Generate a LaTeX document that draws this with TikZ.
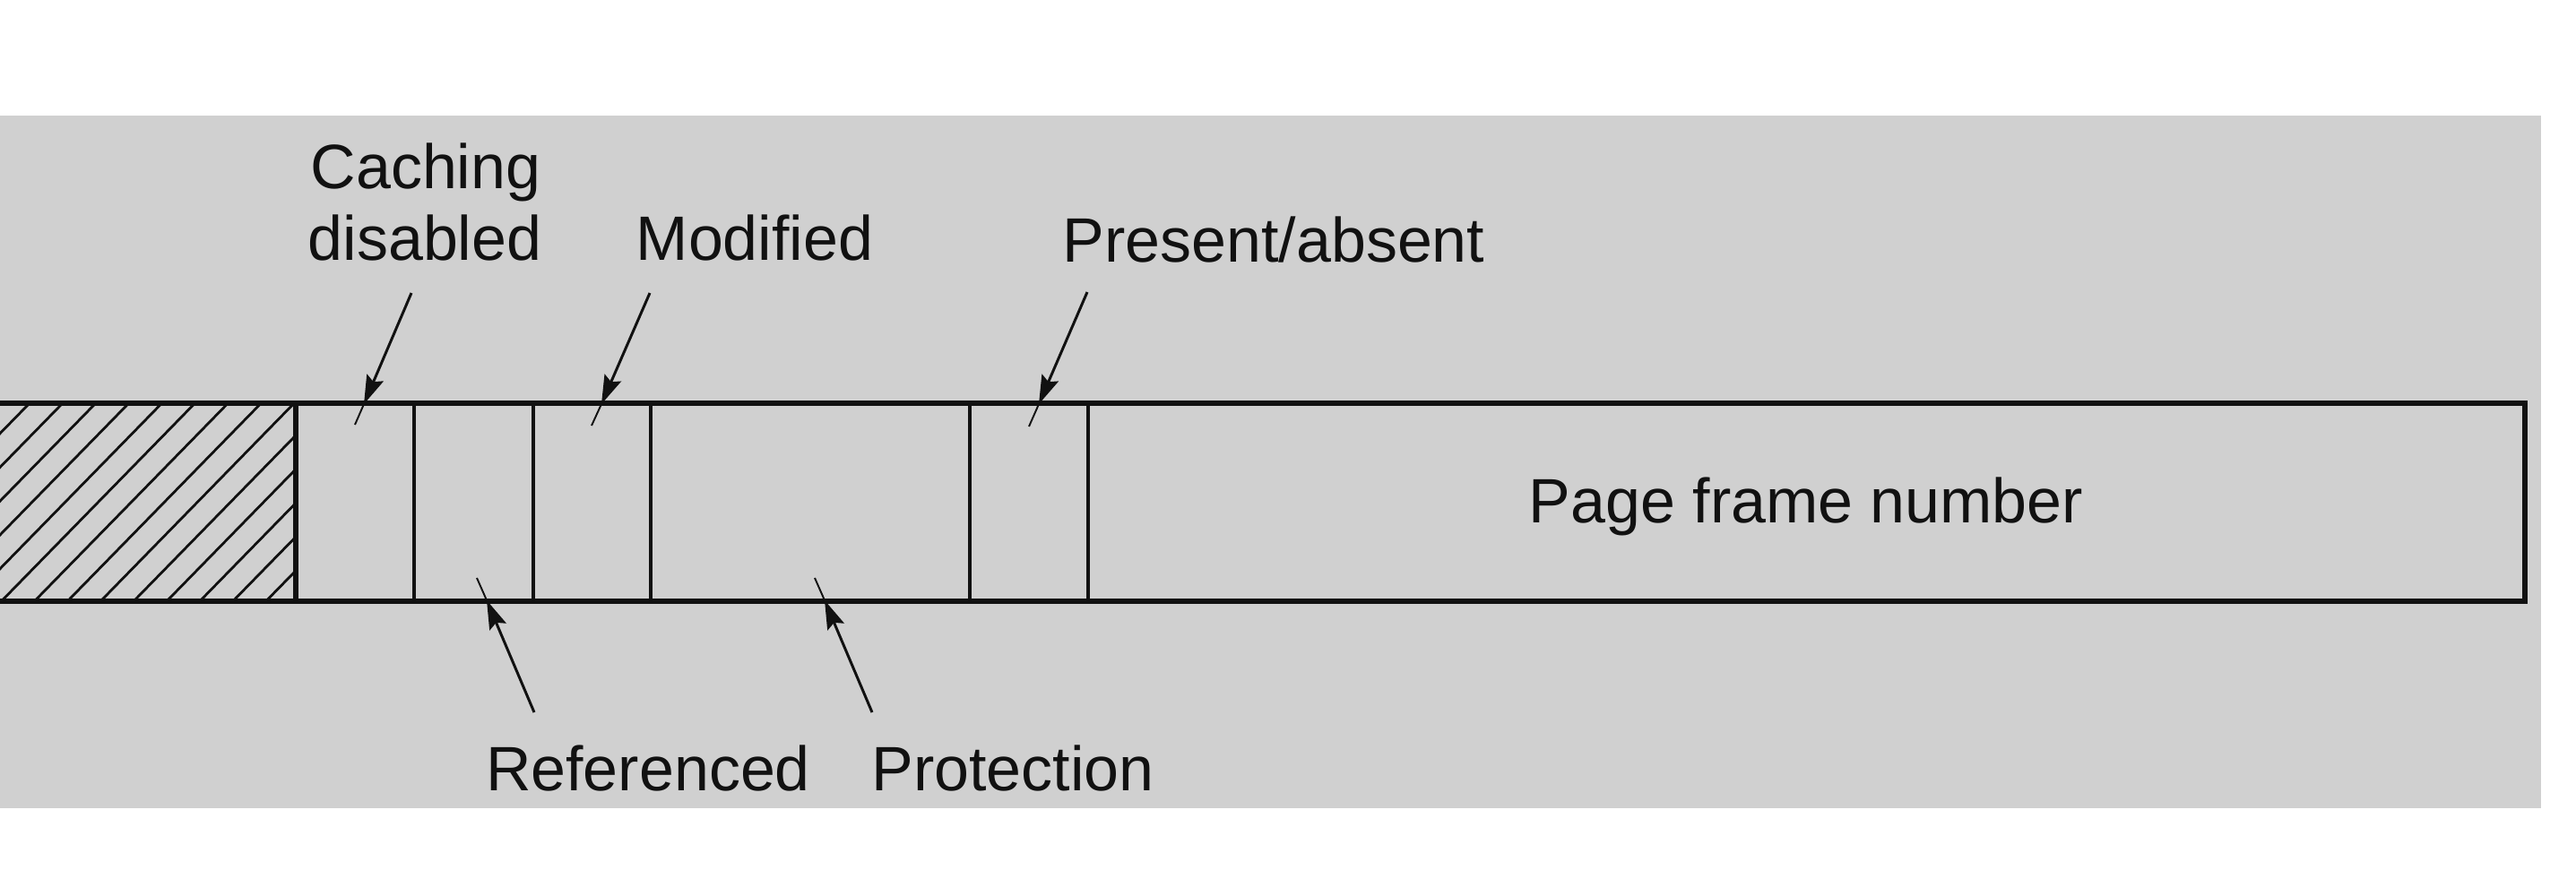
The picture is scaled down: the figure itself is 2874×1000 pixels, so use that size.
\documentclass[tikz,border=0pt]{standalone}
\usepackage{fontspec}
\setmainfont{Liberation Sans}
\usetikzlibrary{arrows.meta}
\definecolor{bggray}{RGB}{208,208,208}
\definecolor{ink}{RGB}{17,17,17}
\begin{document}
\begin{tikzpicture}[x=0.01cm,y=-0.01cm,
  lbl/.style={anchor=base, inner sep=0pt, text=ink, font=\fontsize{19.9pt}{28pt}\selectfont},
  outer/.style={draw=ink, line width=1.8pt},
  divider/.style={draw=ink, line width=1.2pt},
  hatchline/.style={draw=ink, line width=0.8pt},
  ptr/.style={draw=ink, line width=0.85pt, -{Stealth[length=0.32cm,width=0.2cm,inset=0.05cm]}},
  ptrtail/.style={draw=ink, line width=0.55pt},
]
\useasboundingbox (0,0) rectangle (2874,1000);
\fill[white] (0,0) rectangle (2874,1000);
\fill[bggray] (0,129) rectangle (2835,902);

% hatched field
\begin{scope}
  \clip (0,450) rectangle (330,671);
  \foreach \k in {-7,...,15} {
    \draw[hatchline] ({33+36.9*\k},450) -- ({33+36.9*\k-216},671);
  }
\end{scope}

% dividers
\foreach \xx in {462,595,726,1082,1214} {
  \draw[divider] (\xx,450) -- (\xx,671);
}
\draw[outer] (330,450) -- (330,671);

% outer frame (open to the left)
\draw[outer] (0,450) -- (2817,450) -- (2817,671) -- (0,671);

% labels
\node[lbl] (caching)  at (475,210) {Caching};
\node[lbl] (disabled) at (474,290) {disabled};
\node[lbl] (modified) at (842,290) {Modified};
\node[lbl] (present)  at (1421,292) {Present/absent};
\node[lbl] (pfn)      at (2015,583) {Page frame number};
\node[lbl] (refd)     at (723,882) {Referenced};
\node[lbl] (prot)     at (1130,882) {Protection};

% arrow coordinates
\coordinate (cdS) at (459,327);  \coordinate (cdT) at (406,451);  \coordinate (cdE) at (396,474);
\coordinate (moS) at (725,327);  \coordinate (moT) at (671,451);  \coordinate (moE) at (660,475);
\coordinate (prS) at (1213,326); \coordinate (prT) at (1159,451); \coordinate (prE) at (1148,476);
\coordinate (reS) at (596,795);  \coordinate (reT) at (543,670);  \coordinate (reE) at (532,645);
\coordinate (ptS) at (973,795);  \coordinate (ptT) at (920,670);  \coordinate (ptE) at (909,645);

\draw[ptr] (cdS) -- (cdT); \draw[ptrtail] (cdT) -- (cdE);
\draw[ptr] (moS) -- (moT); \draw[ptrtail] (moT) -- (moE);
\draw[ptr] (prS) -- (prT); \draw[ptrtail] (prT) -- (prE);
\draw[ptr] (reS) -- (reT); \draw[ptrtail] (reT) -- (reE);
\draw[ptr] (ptS) -- (ptT); \draw[ptrtail] (ptT) -- (ptE);
\end{tikzpicture}
\end{document}
